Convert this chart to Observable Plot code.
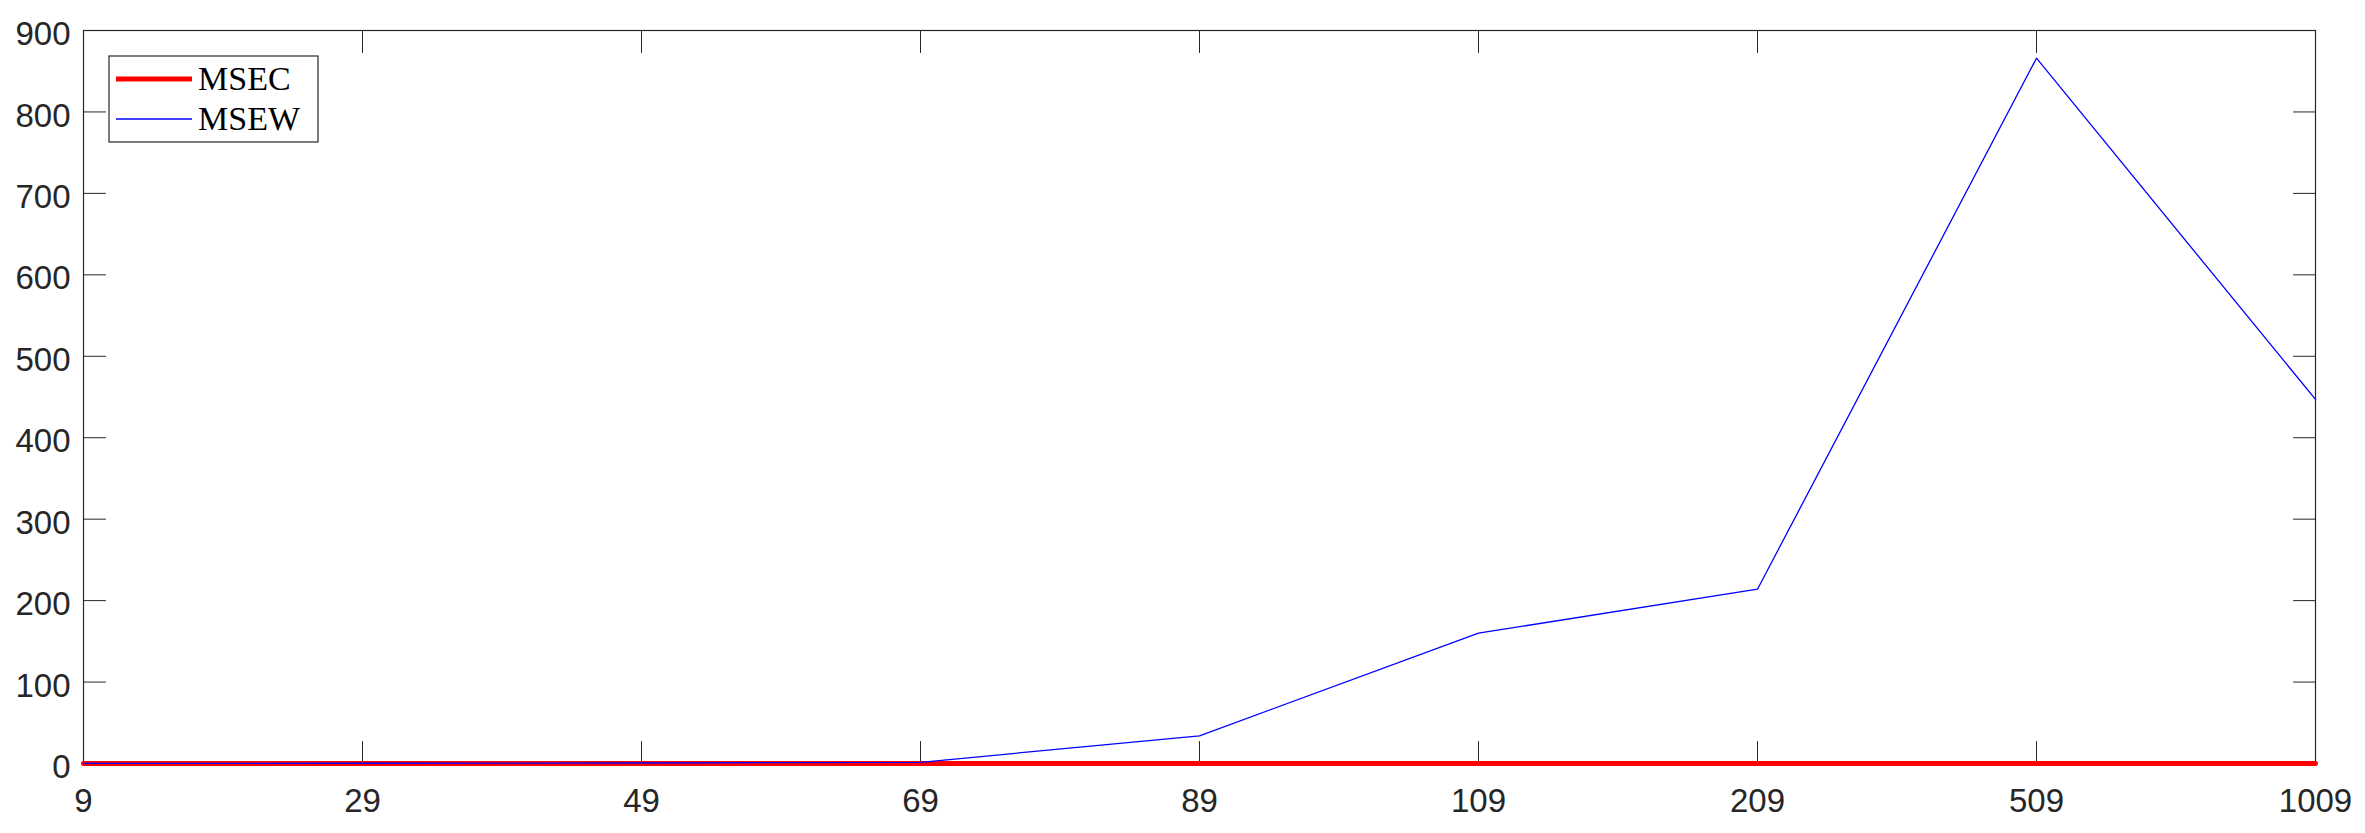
<!DOCTYPE html>
<html><head><meta charset="utf-8">
<script src="https://cdn.jsdelivr.net/npm/d3@7"></script>
<script src="https://cdn.jsdelivr.net/npm/@observablehq/plot@0.6"></script>
<style>
body{margin:0;background:#fff;}
#chart{width:2365px;height:833px;}
</style>
</head><body><div id="chart"></div>
<script>
const sizes = ["9","29","49","69","89","109","209","509","1009"];
const msec = [0.05,0.05,0.06,0.07,0.08,0.1,0.1,0.15,0.12];
const msew = [0.1,0.3,0.6,1.5,34,160,214,866,447];
const yTicks = [0,100,200,300,400,500,600,700,800,900];
const seriesNames = ["MSEC","MSEW"];
const seriesColors = ["#ff0000","#0000ff"];

const rowsC = sizes.map((s,i)=>({size:s, value:msec[i]}));
const rowsW = sizes.map((s,i)=>({size:s, value:msew[i]}));

const axisColor = "#262626";
const tickLen = 22;
const tickShape = {draw(ctx, l){ ctx.moveTo(0,0); ctx.lineTo(0,-l); }};
const tickOpts = {length: tickLen, anchor: "start", shape: tickShape, stroke: axisColor, strokeWidth: 1};
const firstSize = sizes[0], lastSize = sizes[sizes.length-1];

const chart = Plot.plot({
  width: 2365,
  height: 833,
  marginLeft: 83,
  marginRight: 50,
  marginTop: 30,
  marginBottom: 70,
  style: {fontFamily: "'Liberation Sans', Arial, sans-serif", fontSize: "33px", color: axisColor, background: "#fff"},
  x: {type: "point", domain: sizes, padding: 0},
  y: {domain: [0, 900]},
  marks: [
    Plot.frame({stroke: axisColor, strokeWidth: 1.2}),
    Plot.axisX(sizes, {tickSize: 0, tickPadding: 25, label: null, fontSize: 33}),
    Plot.axisY(yTicks, {tickSize: 0, tickPadding: 13, label: null, fontSize: 33, dy: 4}),
    Plot.vector(sizes, {x: d=>d, y: 0, rotate: 0, ...tickOpts}),
    Plot.vector(sizes, {x: d=>d, y: 900, rotate: 180, ...tickOpts}),
    Plot.vector(yTicks, {x: () => firstSize, y: d=>d, rotate: 90, ...tickOpts}),
    Plot.vector(yTicks, {x: () => lastSize, y: d=>d, rotate: -90, ...tickOpts}),
    Plot.line(rowsC, {x: "size", y: "value", stroke: seriesColors[0], strokeWidth: 5}),
    Plot.line(rowsW, {x: "size", y: "value", stroke: seriesColors[1], strokeWidth: 1.3})
  ]
});
document.getElementById("chart").appendChild(chart);

// Legend (inside the axes, top-left)
const svg = d3.select(chart);
const lg = svg.append("g").attr("class","legend");
lg.append("rect").attr("x",109).attr("y",56).attr("width",209).attr("height",86)
  .attr("fill","#fff").attr("stroke",axisColor).attr("stroke-width",1.2);
const widths = [5, 1.3];
seriesNames.forEach((name,i)=>{
  const cy = 79 + i*40;
  lg.append("line").attr("x1",116).attr("x2",192).attr("y1",cy).attr("y2",cy)
    .attr("stroke",seriesColors[i]).attr("stroke-width",widths[i]);
  lg.append("text").attr("x",198).attr("y",cy+11)
    .attr("text-anchor","start")
    .style("font-family","'Liberation Serif','Times New Roman',serif").style("font-size","34px")
    .attr("fill","#000").text(name);
});
</script>
</body></html>
